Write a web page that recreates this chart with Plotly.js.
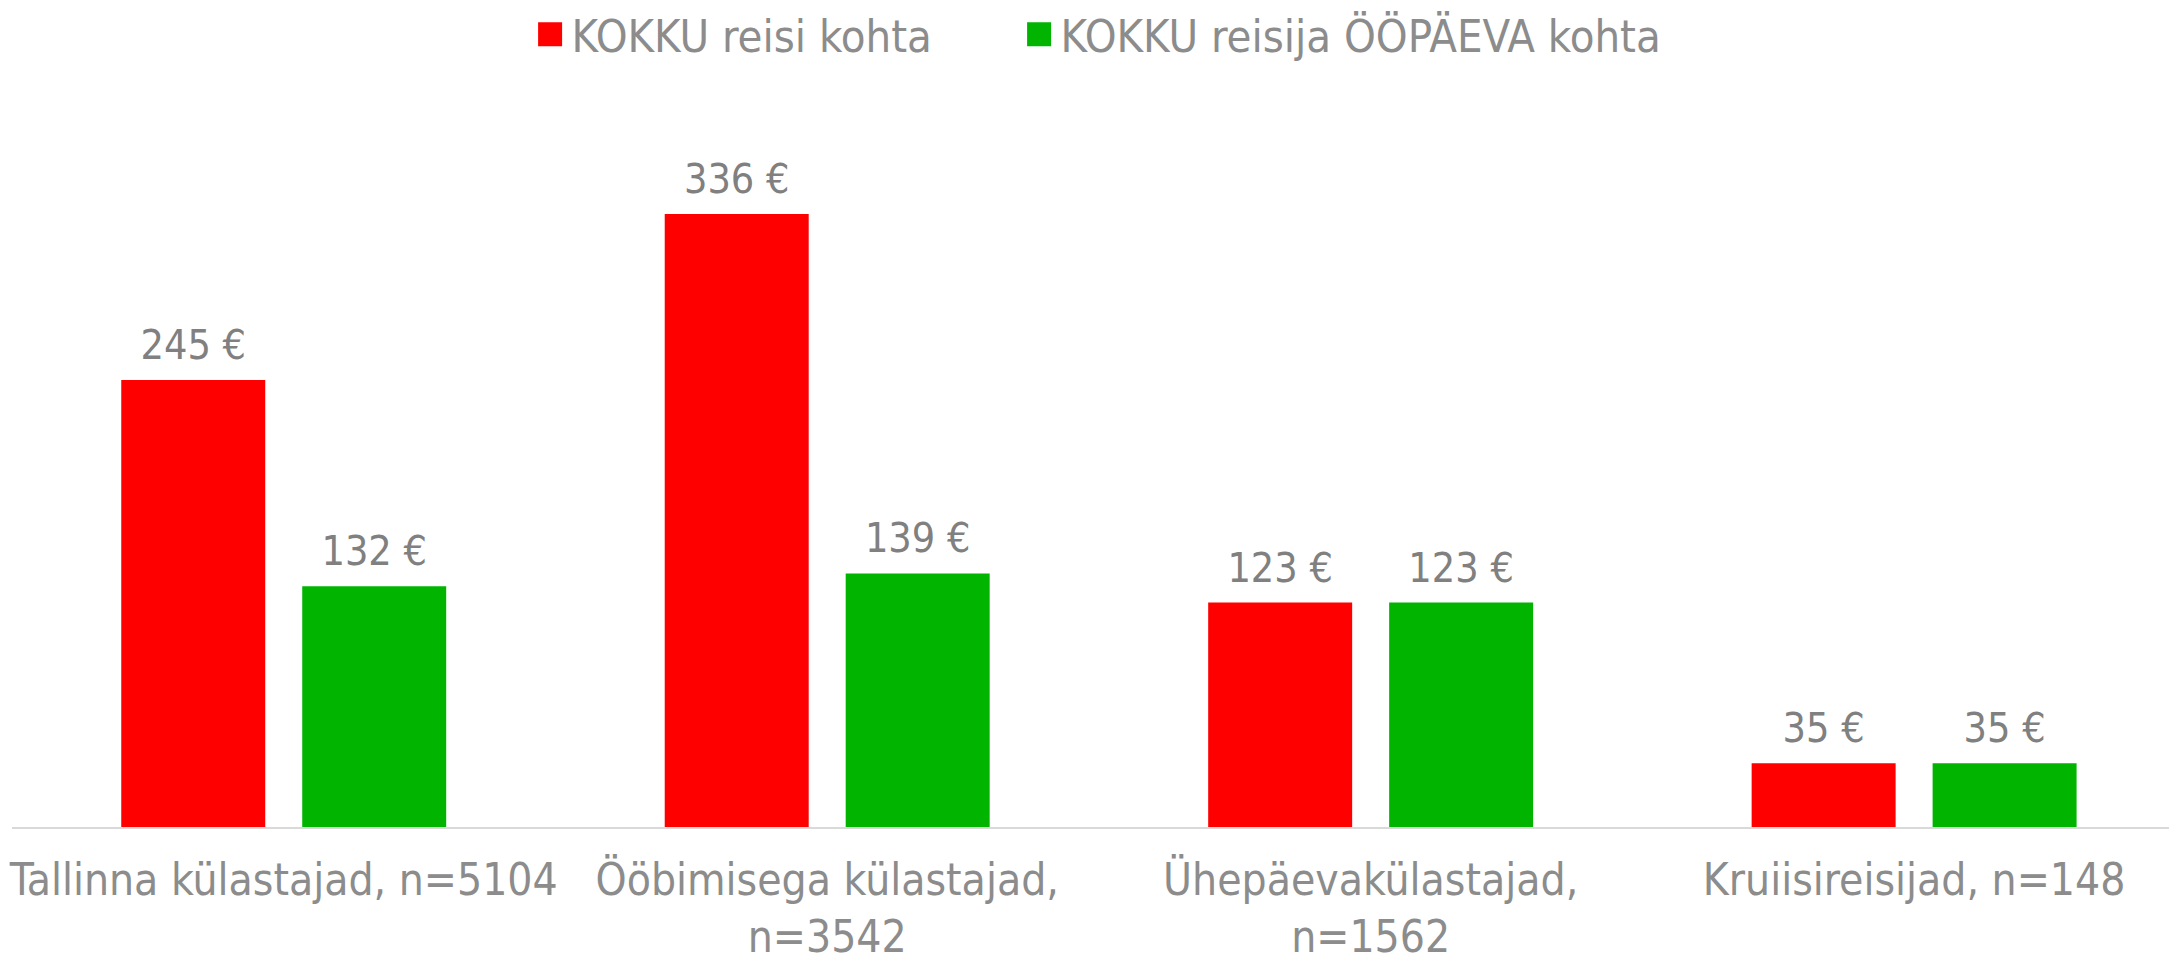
<!DOCTYPE html>
<html>
<head>
<meta charset="utf-8">
<script src="https://cdn.plot.ly/plotly-3.0.1.min.js"></script>
<style>
  html, body { margin: 0; padding: 0; background: #fff; }
  #chart { width: 2169px; height: 960px; }
</style>
</head>
<body>
<div id="chart"></div>
<script>
const categories = [
  "Tallinna külastajad, n=5104",
  "Ööbimisega külastajad,<br>n=3542",
  "Ühepäevakülastajad,<br>n=1562",
  "Kruiisireisijad, n=148"
];
const seriesNames = ["KOKKU reisi kohta", "KOKKU reisija ÖÖPÄEVA kohta"];
const perTrip = [245, 336, 123, 35];
const perDay = [132, 139, 123, 35];

const FONT = "'Liberation Sans Narrow', 'DejaVu Sans Condensed', 'Liberation Sans', sans-serif";

const common = {
  type: 'bar',
  x: categories,
  texttemplate: '%{y} €',
  textposition: 'outside',
  cliponaxis: false,
  constraintext: 'none',
  textfont: { family: FONT, size: 41, color: '#808080' },
  hoverinfo: 'skip'
};

const data = [
  Object.assign({}, common, { name: seriesNames[0], y: perTrip,
    marker: { color: '#ff0000' }, legendwidth: 441 }),
  Object.assign({}, common, { name: seriesNames[1], y: perDay,
    marker: { color: '#00b400' }, legendwidth: 660 })
];

const layout = {
  width: 2169,
  height: 960,
  margin: { l: 12, r: 0, t: 100, b: 133 },
  paper_bgcolor: '#ffffff',
  plot_bgcolor: '#ffffff',
  font: { family: FONT, color: '#8c8c8c' },
  barmode: 'group',
  bargap: 0.334,
  bargroupgap: 0.2044,
  showlegend: true,
  legend: {
    orientation: 'h',
    x: 0.2395, xanchor: 'left',
    y: 0.964, yanchor: 'middle', yref: 'container',
    itemwidth: 33,
    font: { family: FONT, size: 45, color: '#8c8c8c' },
    itemclick: false, itemdoubleclick: false
  },
  xaxis: {
    type: 'category',
    range: [-0.5, 3.469],
    showline: true,
    linecolor: '#d9d9d9',
    linewidth: 2,
    ticks: '',
    tickangle: 0,
    showgrid: false,
    zeroline: false,
    tickfont: { family: FONT, size: 44, color: '#8c8c8c' },
    ticklabelstandoff: 13,
    fixedrange: true
  },
  yaxis: {
    range: [0, 398.5],
    visible: false,
    showgrid: false,
    zeroline: false,
    fixedrange: true
  }
};

function polish() {
  document.querySelectorAll('#chart .legend .legendpoints path').forEach(function (p) {
    const t = p.getAttribute('transform') || '';
    if (t.indexOf('scale') === -1) p.setAttribute('transform', (t + ' scale(2)').trim());
  });
  document.querySelectorAll('#chart .bartext').forEach(function (el) {
    if (el.dataset.lifted) return;
    const t = el.getAttribute('transform') || '';
    el.setAttribute('transform', ('translate(0,-8) ' + t).trim());
    el.dataset.lifted = '1';
  });
}

Plotly.newPlot('chart', data, layout, { displayModeBar: false, staticPlot: true }).then(function (gd) {
  polish();
  gd.on('plotly_afterplot', polish);
});
</script>
</body>
</html>
